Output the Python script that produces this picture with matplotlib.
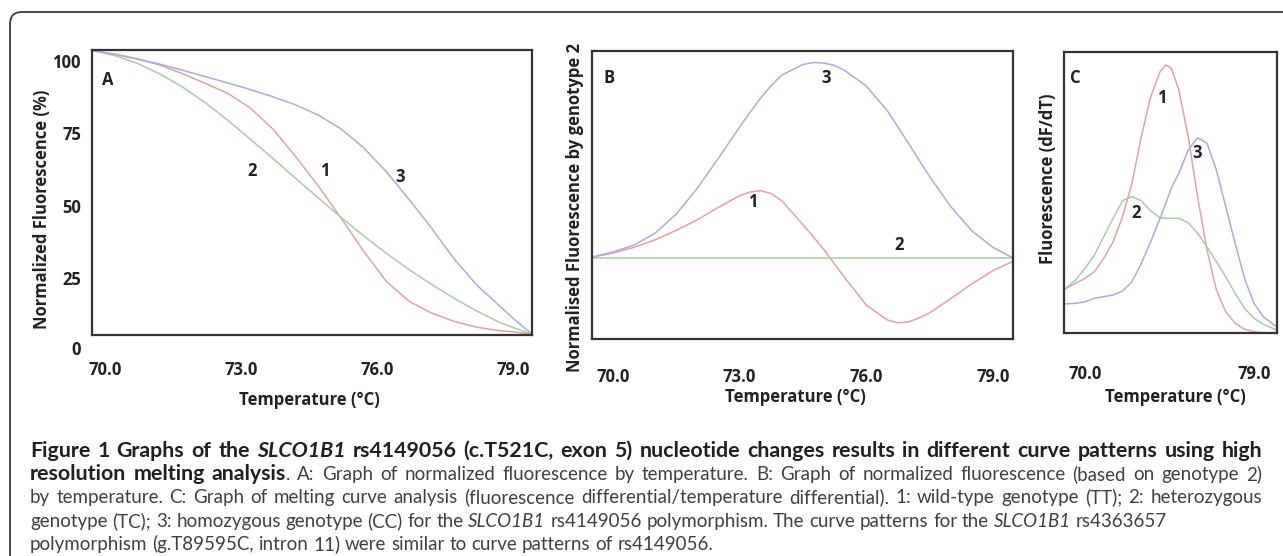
import matplotlib
matplotlib.use("Agg")
import matplotlib.pyplot as plt
from matplotlib.path import Path
from matplotlib.patches import PathPatch

# ---- data ----
# panel A: normalized fluorescence (%) vs temperature
temp_a = [69.7, 70.2, 70.7, 71.2, 71.7, 72.2, 72.7, 73.2, 73.7, 74.2, 74.7,
          75.2, 75.7, 76.2, 76.7, 77.2, 77.7, 78.2, 78.7, 79.0, 79.42]
a_wild = [103.6, 102.3, 100.6, 98.6, 95.6, 92.3, 88.8, 83.7, 76.4, 66.9, 56.8,
          45.7, 34.2, 23.8, 16.9, 12.8, 9.9, 7.9, 6.7, 6.3, 5.5]
a_het = [103.6, 101.9, 99.2, 95.5, 91.0, 85.6, 79.5, 72.9, 66.2, 59.4, 52.6,
         45.9, 39.5, 33.5, 27.9, 22.7, 17.9, 13.5, 9.6, 7.8, 5.5]
a_hom = [103.6, 102.4, 100.8, 98.9, 96.8, 94.6, 92.4, 90.1, 87.6, 84.8, 81.3,
         76.5, 70.0, 61.7, 52.2, 42.2, 31.5, 22.5, 15.3, 11.0, 5.5]

# panel B: fluorescence difference to genotype 2
temp_b = [69.5, 70.0, 70.5, 71.0, 71.5, 72.0, 72.5, 73.0, 73.25, 73.5, 73.75, 74.0, 74.5,
          74.75, 75.0, 75.25, 75.5, 76.0, 76.5, 76.75, 77.0, 77.25, 77.5, 78.0, 78.5, 79.0, 79.48]
b_wild = [0.007, 0.05, 0.107, 0.183, 0.277, 0.383, 0.507, 0.623, 0.66, 0.673, 0.643, 0.573, 0.333,
          0.21, 0.083, -0.06, -0.2, -0.47, -0.62, -0.648, -0.64, -0.6, -0.55, -0.407, -0.26, -0.127, -0.033]
b_het = [0] * len(temp_b)
b_hom = [0.01, 0.06, 0.13, 0.25, 0.44, 0.70, 1.0, 1.31, 1.46, 1.6, 1.725, 1.83, 1.935,
         1.955, 1.95, 1.925, 1.873, 1.72, 1.473, 1.31, 1.15, 0.98, 0.817, 0.517, 0.273, 0.107, 0]

# panel C: dF/dT
temp_c = [68.9, 69.5, 70.0, 70.5, 71.0, 71.5, 72.0, 72.5, 73.0, 73.5, 74.0, 74.3,
          74.6, 75.0, 75.5, 76.0, 76.5, 77.0, 77.5, 78.0, 78.5, 79.0, 79.5, 80.2]
c_wild = [0.437, 0.497, 0.547, 0.613, 0.747, 0.913, 1.163, 1.497, 1.963, 2.363, 2.613, 2.68,
          2.647, 2.43, 1.963, 1.363, 0.83, 0.43, 0.213, 0.097, 0.037, 0.013, 0.003, 0]
c_het = [0.437, 0.53, 0.647, 0.78, 0.963, 1.147, 1.323, 1.363, 1.323, 1.22, 1.153, 1.147,
         1.147, 1.147, 1.103, 0.997, 0.863, 0.713, 0.563, 0.397, 0.247, 0.147, 0.087, 0.03]
c_hom = [0.29, 0.297, 0.313, 0.347, 0.363, 0.38, 0.42, 0.513, 0.697, 0.913, 1.147, 1.297,
         1.447, 1.597, 1.83, 1.953, 1.897, 1.63, 1.263, 0.897, 0.547, 0.297, 0.163, 0.063]

ticks_abc = [70, 73, 76, 79]
ticks_c = [70, 79]
yticks_a = [25, 50, 75, 100]

RED = "#dfa4a4"
GREEN = "#aacca6"
BLUE = "#ababe3"
EDGE = "#333333"
FONT = "Open Sans"
CAP_FONT = "Lato"

W, H = 1283, 556
plt.rcParams['font.family'] = [FONT, 'DejaVu Sans']
fig = plt.figure(figsize=(W / 100, H / 100), dpi=100)


def axes_px(x0, y0, x1, y1):
    return fig.add_axes([x0 / W, 1 - y1 / H, (x1 - x0) / W, (y1 - y0) / H])


def style_axes(ax, ticks, pad):
    for s in ax.spines.values():
        s.set_color(EDGE)
        s.set_linewidth(1.6)
    ax.set_xticks(ticks)
    ax.set_xticklabels(["%.1f" % t for t in ticks], fontsize=12, fontweight='bold', color='#222222')
    ax.tick_params(axis='x', length=0, pad=pad)
    ax.tick_params(axis='y', length=0)


def bold(ax, x, y, s, coords='data', **kw):
    tr = ax.transAxes if coords == 'axes' else ax.transData
    ax.text(x, y, s, transform=tr, fontsize=12, fontweight='bold', color='#222222',
            ha='center', va='center', clip_on=False, **kw)


# panel A
ax = axes_px(92, 50, 532, 335)
ax.plot(temp_a, a_wild, color=RED, lw=1.1)
ax.plot(temp_a, a_het, color=GREEN, lw=1.1)
ax.plot(temp_a, a_hom, color=BLUE, lw=1.1)
ax.set_xlim(69.7, 79.42)
ax.set_ylim(5.2, 103.8)
style_axes(ax, ticks_abc, 19)
ax.set_yticks(yticks_a)
ax.set_yticklabels([str(v) for v in yticks_a], fontsize=12, fontweight='bold', color='#222222')
ax.tick_params(axis='y', pad=8)
ax.text(-0.025, 0, "0", transform=ax.get_yaxis_transform(), fontsize=12, fontweight='bold',
        color='#222222', ha='right', va='center', clip_on=False)
bold(ax, 0.036, 0.895, "A", coords='axes')
bold(ax, 73.23, 61.8, "2")
bold(ax, 74.85, 61.8, "1")
bold(ax, 76.5, 60, "3")
bold(ax, 0.495, -0.228, "Temperature (°C)", coords='axes')
bold(ax, -0.114, 0.44, "Normalized Fluorescence (%)", coords='axes', rotation=90)

# panel B
ax = axes_px(592, 51, 1013, 339)
ax.plot(temp_b, b_wild, color=RED, lw=1.1)
ax.plot(temp_b, b_het, color=GREEN, lw=1.1)
ax.plot(temp_b, b_hom, color=BLUE, lw=1.1)
ax.set_xlim(69.5, 79.48)
ax.set_ylim(-0.81, 2.07)
style_axes(ax, ticks_abc, 21)
ax.set_yticks([])
bold(ax, 0.04, 0.906, "B", coords='axes')
bold(ax, 75.05, 1.8, "3")
bold(ax, 73.32, 0.56, "1")
bold(ax, 76.78, 0.13, "2")
bold(ax, 0.482, -0.2, "Temperature (°C)", coords='axes')
bold(ax, -0.04, 0.458, "Normalised Fluorescence by genotype 2", coords='axes', rotation=90)

# panel C
ax = axes_px(1064, 52, 1277, 333)
ax.plot(temp_c, c_wild, color=RED, lw=1.1)
ax.plot(temp_c, c_het, color=GREEN, lw=1.1)
ax.plot(temp_c, c_hom, color=BLUE, lw=1.1)
ax.set_xlim(68.88, 80.23)
ax.set_ylim(0, 2.81)
style_axes(ax, ticks_c, 23)
ax.set_yticks([])
bold(ax, 0.052, 0.907, "C", coords='axes')
bold(ax, 74.08, 2.35, "1")
bold(ax, 76.0, 1.8, "3")
bold(ax, 72.74, 1.2, "2")
bold(ax, 0.521, -0.228, "Temperature (°C)", coords='axes')
bold(ax, -0.075, 0.548, "Fluorescence (dF/dT)", coords='axes', rotation=90)

# frame (top and left edge, rounded corner)
verts = [(10, H), (10, 24), (10, 12), (22, 12), (W, 12)]
verts = [(x / W, 1 - y / H) for x, y in verts]
codes = [Path.MOVETO, Path.LINETO, Path.CURVE3, Path.CURVE3, Path.LINETO]
fig.add_artist(PathPatch(Path(verts, codes), transform=fig.transFigure,
                         fill=False, edgecolor='#3a3a3a', lw=1.3))

# caption
B = dict(fontweight='bold', color='#231f20')
BI = dict(fontweight='bold', fontstyle='italic', color='#231f20')
N = dict(color='#404040')
I = dict(fontstyle='italic', color='#404040')

caption = [
    ([("Figure 1 Graphs of the ", B), ("SLCO1B1", BI),
      (" rs4149056 (c.T521C, exon 5) nucleotide changes results in different curve patterns using high", B)], True),
    ([("resolution melting analysis", B),
      (". A: Graph of normalized fluorescence by temperature. B: Graph of normalized fluorescence (based on genotype 2)", N)], True),
    ([("by temperature. C: Graph of melting curve analysis (fluorescence differential/temperature differential). "
       "1: wild-type genotype (TT); 2: heterozygous", N)], True),
    ([("genotype (TC); 3: homozygous genotype (CC) for the ", N), ("SLCO1B1", I),
      (" rs4149056 polymorphism. The curve patterns for the ", N), ("SLCO1B1", I), (" rs4363657", N)], False),
    ([("polymorphism (g.T89595C, intron 11) were similar to curve patterns of rs4149056.", N)], False),
]
baselines = [457, 480, 503, 527, 550]
CAP_X0, CAP_X1 = 30, 1262
renderer = fig.canvas.get_renderer()


def width(s, size, st):
    t = fig.text(0, 0, s, fontsize=size, fontfamily=CAP_FONT, **st)
    w = t.get_window_extent(renderer=renderer).width
    t.remove()
    return w


def words_of(runs):
    words, cur = [], []
    for text, st in runs:
        parts = text.split(' ')
        for i, p in enumerate(parts):
            if i > 0 and cur:
                words.append(cur)
                cur = []
            if p:
                cur.append((p, st))
    if cur:
        words.append(cur)
    return words


def line_width(runs, sizes):
    ws = words_of(runs)
    sp = width("n n", sizes[0], N) - width("nn", sizes[0], N)
    tot = 0
    for w in ws:
        for s, st in w:
            tot += width(s, sizes[1] if st.get('fontweight') else sizes[0], st)
    return tot + sp * (len(ws) - 1)


size = 11 * 1205 / line_width(caption[2][0], (11, 11))
bsize = 11 * 1222 / line_width(caption[0][0], (size, 11))

for (runs, justify), yb in zip(caption, baselines):
    ws = words_of(runs)
    wl = [[width(s, bsize if st.get('fontweight') else size, st) for s, st in w] for w in ws]
    total = sum(sum(x) for x in wl)
    if justify:
        gap = (CAP_X1 - CAP_X0 - total) / (len(ws) - 1)
    else:
        gap = width("n n", size, N) - width("nn", size, N)
    x = CAP_X0
    for w, widths in zip(ws, wl):
        for (s, st), pw in zip(w, widths):
            fig.text(x / W, 1 - yb / H, s, fontsize=bsize if st.get('fontweight') else size,
                     fontfamily=CAP_FONT, va='baseline', **st)
            x += pw
        x += gap

fig.savefig("out.png", dpi=100)
